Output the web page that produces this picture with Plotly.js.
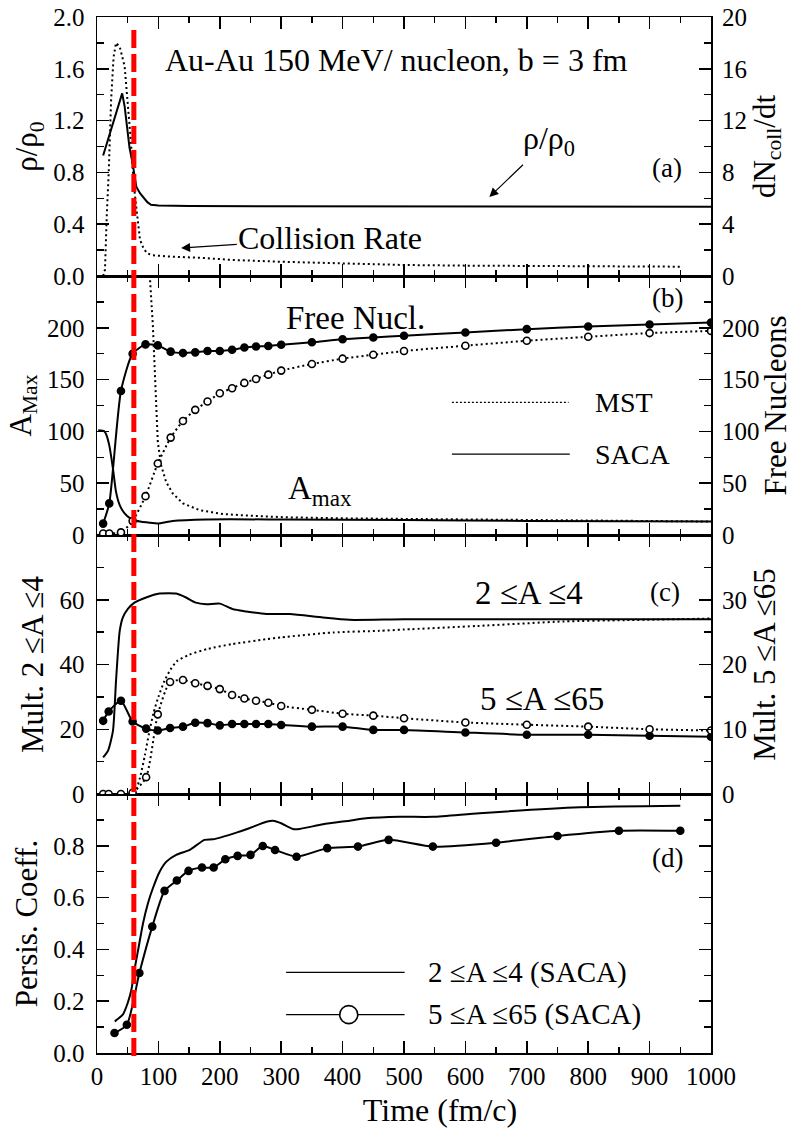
<!DOCTYPE html>
<html>
<head>
<meta charset="utf-8">
<script src="https://cdn.plot.ly/plotly-3.0.1.min.js"></script>
<style>html,body{margin:0;padding:0;background:#ffffff;}#chart{width:793px;height:1133px;}</style>
</head>
<body>
<div id="chart"></div>
<script>
// ---------- Panel (a): density (left) and collision rate (right) ----------
const rhoTime  = [10, 20, 30, 41, 45, 50, 53, 58, 64, 70, 75, 82, 88, 100, 150, 300, 500, 700, 1000];
const rhoValue = [0.93, 1.09, 1.24, 1.41, 1.31, 1.10, 0.99, 0.87, 0.69, 0.64, 0.61, 0.57, 0.55, 0.545, 0.54, 0.54, 0.54, 0.535, 0.535];
const collTime = [10, 13, 16, 19, 23, 27, 31, 37, 45, 50, 55, 60, 66, 70, 76, 82, 90, 120, 170, 220, 300, 400, 500, 600, 700, 800, 950];
const collRate = [0, 0.5, 4.8, 7.9, 13.6, 16.9, 18.0, 17.7, 16.2, 13.6, 10.5, 7.0, 4.3, 2.8, 2.1, 1.75, 1.6, 1.5, 1.4, 1.24, 1.1, 0.95, 0.85, 0.8, 0.77, 0.74, 0.72];

// ---------- Panel (b): free nucleons (right) and A_max (left) ----------
const freeTime      = [10, 20, 39, 58, 79, 99, 120, 140, 160, 180, 200, 220, 240, 259, 279, 300, 350, 400, 450, 500, 600, 700, 800, 900, 1000];
const freeSacaValue = [11, 30.5, 139, 175, 184, 183, 177, 175.6, 176.3, 177.6, 177.6, 178.8, 181, 182, 182.4, 183.7, 186, 189, 190.7, 192.3, 195.5, 198.7, 201.3, 203.2, 205];
const freeMstValue  = [1.5, 1.5, 2.5, 13.5, 37.5, 69, 94, 110, 120.8, 128.8, 136.8, 141.7, 146.8, 150.6, 154.8, 158.7, 165, 170.2, 174, 177.6, 182.7, 187.5, 191.3, 194.9, 197];
const amaxSacaTime  = [2, 12, 15, 20, 26, 31, 37, 45, 53, 64, 80, 99, 123, 178, 300, 500, 700, 1000];
const amaxSacaValue = [101, 100, 97, 86.5, 64, 41.6, 28.8, 20.8, 16.6, 13.8, 12.2, 11.2, 13.5, 15, 15, 14.5, 13.5, 13];
const amaxMstTime   = [84, 85.5, 88, 91, 93.6, 96.4, 99, 104.5, 112.7, 123.5, 140, 167, 205, 259, 313, 411, 500, 700, 900, 1000];
const amaxMstValue  = [270, 250, 231, 202, 160, 122, 90, 67, 51, 40, 30.5, 24, 20.2, 18.3, 17, 16, 15.5, 14, 13.2, 13];

// ---------- Panel (c): multiplicities ----------
const light24SacaTime  = [10, 18, 26, 31, 37, 42, 50, 61, 80, 102, 129, 145, 161, 178, 200, 221, 243, 276, 314, 368, 411, 500, 700, 1000];
const light24SacaValue = [11.3, 13.4, 19.5, 35, 50.4, 54.5, 57.1, 59.1, 60.7, 61.9, 61.9, 60.7, 59.1, 58.6, 58.8, 57.1, 56.4, 55.6, 55.6, 54.5, 53.8, 54, 54, 54];
const light24MstTime   = [62, 70, 78, 85, 92, 100, 110, 120, 130, 150, 180, 220, 275, 300, 385, 460, 500, 620, 760, 860, 1000];
const light24MstValue  = [0, 5, 12, 19, 25, 30, 35, 38.5, 41, 43, 44.8, 46.3, 47.8, 48.4, 49.9, 50.4, 50.8, 51.9, 53.3, 53.7, 54.2];
const frag565Time      = [10, 19, 39, 58, 80, 99, 119, 140, 160, 180, 200, 220, 240, 259, 279, 300, 350, 400, 450, 500, 600, 700, 800, 900, 1000];
const frag565SacaValue = [11.3, 12.75, 14.4, 11.2, 10.1, 9.8, 10.2, 10.4, 11, 10.95, 10.6, 10.8, 10.8, 10.8, 10.8, 10.65, 10.4, 10.4, 9.9, 9.9, 9.5, 9.15, 9.15, 9.0, 8.85];
const frag565MstValue  = [0, 0, 0, 0.2, 2.6, 12.3, 17.3, 17.6, 17.1, 16.7, 16.2, 15.3, 14.75, 14.4, 14.1, 13.6, 13, 12.4, 12.1, 11.7, 11.05, 10.7, 10.4, 10.0, 9.8];

// ---------- Panel (d): persistence coefficients (SACA) ----------
const persist24Time  = [29, 31, 42, 50, 56, 61, 67, 75, 83, 91, 102, 113, 129, 151, 175, 189, 227, 248, 276, 289, 300, 319, 330, 368, 411, 438, 493, 547, 623, 786, 950];
const persist24Value = [0.122, 0.126, 0.148, 0.193, 0.244, 0.321, 0.398, 0.501, 0.578, 0.636, 0.700, 0.739, 0.765, 0.784, 0.823, 0.825, 0.851, 0.868, 0.893, 0.896, 0.887, 0.865, 0.865, 0.883, 0.897, 0.906, 0.912, 0.912, 0.926, 0.949, 0.955];
const persist565Time  = [28.5, 48.6, 69, 90, 110, 130, 149, 171, 190, 209, 229, 250, 270, 290, 325, 375, 425, 475, 547, 650, 750, 850, 950];
const persist565Value = [0.077, 0.109, 0.309, 0.488, 0.626, 0.666, 0.703, 0.716, 0.716, 0.748, 0.761, 0.765, 0.799, 0.784, 0.758, 0.791, 0.797, 0.823, 0.797, 0.812, 0.838, 0.858, 0.858];

// ---------- Reference time and tick labels ----------
const redLineTime = 60;
const timeTicks   = [0, 100, 200, 300, 400, 500, 600, 700, 800, 900, 1000];
const rhoTicks    = [0, 0.4, 0.8, 1.2, 1.6, 2.0];
const collTicks   = [0, 4, 8, 12, 16, 20];
const amaxTicks   = [0, 50, 100, 150, 200];
const multTicks   = [0, 20, 40, 60];
const mult565Ticks = [0, 10, 20, 30];
const persistTicks = [0, 0.2, 0.4, 0.6, 0.8];

const FONT = 'Liberation Serif';
const BLACK = '#000000';

function line(x, y, xa, ya, dash, shape) {
  return {x: x, y: y, xaxis: xa, yaxis: ya, type: 'scatter', mode: 'lines',
    line: {color: BLACK, width: 2, dash: dash || 'solid', shape: shape || 'linear', smoothing: 0.6},
    hoverinfo: 'skip'};
}
function lineMarkers(x, y, xa, ya, dash, open) {
  return {x: x, y: y, xaxis: xa, yaxis: ya, type: 'scatter', mode: 'lines+markers',
    line: {color: BLACK, width: 2, dash: dash || 'solid', shape: 'spline', smoothing: 0.6},
    marker: {symbol: 'circle', size: 7, color: open ? '#ffffff' : BLACK, line: {color: BLACK, width: 1.6}},
    hoverinfo: 'skip'};
}
const DOT = '2px,3px';

const traces = [
  line(rhoTime, rhoValue, 'x4', 'y4'),
  line(collTime, collRate, 'x4', 'y5', DOT),
  lineMarkers(freeTime, freeSacaValue, 'x3', 'y6', 'solid', false),
  lineMarkers(freeTime, freeMstValue, 'x3', 'y6', DOT, true),
  line(amaxSacaTime, amaxSacaValue, 'x3', 'y3', 'solid', 'spline'),
  line(amaxMstTime, amaxMstValue, 'x3', 'y3', DOT),
  line(light24SacaTime, light24SacaValue, 'x2', 'y2', 'solid', 'spline'),
  line(light24MstTime, light24MstValue, 'x2', 'y2', DOT, 'spline'),
  lineMarkers(frag565Time, frag565SacaValue, 'x2', 'y7', 'solid', false),
  lineMarkers(frag565Time, frag565MstValue, 'x2', 'y7', DOT, true),
  line(persist24Time, persist24Value, 'x', 'y', 'solid', 'spline'),
  lineMarkers(persist565Time, persist565Value, 'x', 'y', 'solid', false)
];

const tickFont = {family: FONT, size: 25, color: BLACK};
const titleFont = {family: FONT, size: 31, color: BLACK};

function xAxis(anchor, showLabels) {
  const ax = {
    anchor: anchor, domain: [0, 1], range: [0, 1000],
    showline: true, linecolor: BLACK, linewidth: 1.5, mirror: 'ticks',
    ticks: 'inside', ticklen: 12, tickwidth: 1.5, tickcolor: BLACK,
    tickmode: 'array', tickvals: timeTicks,
    minor: {ticks: 'inside', dtick: 50, tick0: 0, ticklen: 6, tickwidth: 1.5, tickcolor: BLACK},
    showgrid: false, zeroline: false, showticklabels: showLabels,
    tickfont: tickFont, ticklabelstandoff: 0, fixedrange: true
  };
  if (anchor !== 'y') ax.matches = 'x';
  return ax;
}
function yLeft(domain, range, tickvals, fmt, minorStep, title, standoff) {
  return {
    domain: domain, range: range, anchor: null,
    showline: true, linecolor: BLACK, linewidth: 1.5, mirror: 'ticks',
    ticks: 'inside', ticklen: 12, tickwidth: 1.5, tickcolor: BLACK,
    tickmode: 'array', tickvals: tickvals, tickformat: fmt,
    minor: {ticks: 'inside', dtick: minorStep, tick0: 0, ticklen: 7, tickwidth: 1.5, tickcolor: BLACK},
    showgrid: false, zeroline: false, tickfont: tickFont, ticklabelstandoff: 6,
    title: {text: title, font: titleFont, standoff: standoff}, fixedrange: true
  };
}
function yRight(overlay, anchor, range, tickvals, title, standoff) {
  return {
    overlaying: overlay, anchor: anchor, side: 'right', range: range,
    showline: false, ticks: '', showgrid: false, zeroline: false,
    tickmode: 'array', tickvals: tickvals, tickfont: tickFont, ticklabelstandoff: 10,
    title: {text: title, font: titleFont, standoff: standoff}, fixedrange: true
  };
}

const yd = yLeft([0, 0.25], [0, 1], persistTicks, '.1f', 0.1, 'Persis. Coeff.', 6); yd.anchor = 'x';
const yc = yLeft([0.25, 0.5], [0, 80], multTicks, 'd', 10, 'Mult. 2 \u2264A \u22644', 6); yc.anchor = 'x2';
const yb = yLeft([0.5, 0.75], [0, 250], amaxTicks, 'd', 25, 'A<sub>Max</sub>', 6); yb.anchor = 'x3';
const ya = yLeft([0.75, 1], [0, 2], rhoTicks, '.1f', 0.2, '\u03c1/\u03c1<sub>0</sub>', 6); ya.anchor = 'x4';

const xMain = xAxis('y', true);
// a zero-width character keeps the leading no-break spaces, which move the centred title to the right as in the reference
xMain.title = {text: '\u200b\u00a0\u00a0\u00a0\u00a0\u00a0\u00a0\u00a0\u00a0\u00a0Time (fm/c)', font: {family: FONT, size: 32, color: BLACK}, standoff: 10};

const annFont = (s) => ({family: FONT, size: s, color: BLACK});
function note(text, x, y, xr, yr, size) {
  return {text: text, x: x, y: y, xref: xr, yref: yr, xanchor: 'left', yanchor: 'middle', showarrow: false, font: annFont(size)};
}

const layout = {
  width: 793, height: 1133,
  margin: {l: 97, r: 82, t: 17, b: 80, pad: 0},
  paper_bgcolor: '#ffffff', plot_bgcolor: '#ffffff',
  showlegend: false,
  font: {family: FONT, color: BLACK, size: 25},
  title: {text: 'Au-Au 150 MeV/ nucleon, b = 3 fm', font: {family: FONT, size: 32, color: BLACK},
          xref: 'container', yref: 'container', x: 165 / 793, y: 1 - 60 / 1133, xanchor: 'left', yanchor: 'middle'},
  xaxis: xMain,
  xaxis2: xAxis('y2', false),
  xaxis3: xAxis('y3', false),
  xaxis4: xAxis('y4', false),
  yaxis: yd, yaxis2: yc, yaxis3: yb, yaxis4: ya,
  yaxis5: yRight('y4', 'x4', [0, 20], collTicks, 'dN<sub>coll</sub>/dt', 6),
  yaxis6: yRight('y3', 'x3', [0, 250], amaxTicks, 'Free Nucleons', 6),
  yaxis7: yRight('y2', 'x2', [0, 40], mult565Ticks, 'Mult. 5 \u2264A \u226465', 6),
  shapes: [
    {type: 'line', xref: 'x', yref: 'paper', x0: redLineTime, x1: redLineTime, y0: 0.9875, y1: -0.007,
     line: {color: '#ff0000', width: 5, dash: '18px,6px'}, layer: 'above'},
    // legend keys, panel (b)
    {type: 'line', xref: 'x3', yref: 'y3', x0: 578, x1: 768, y0: 128, y1: 128, line: {color: BLACK, width: 1.2, dash: '2px,2px'}},
    {type: 'line', xref: 'x3', yref: 'y3', x0: 578, x1: 770, y0: 78, y1: 78, line: {color: BLACK, width: 1.2}},
    // legend keys, panel (d)
    {type: 'line', xref: 'x', yref: 'y', x0: 308, x1: 501, y0: 0.311, y1: 0.311, line: {color: BLACK, width: 1.2}},
    {type: 'line', xref: 'x', yref: 'y', x0: 308, x1: 501, y0: 0.148, y1: 0.148, line: {color: BLACK, width: 1.2}},
    {type: 'circle', xref: 'x', yref: 'y', xsizemode: 'pixel', ysizemode: 'pixel', xanchor: 410, yanchor: 0.148,
     x0: -9, x1: 9, y0: -9, y1: 9, fillcolor: '#ffffff', line: {color: BLACK, width: 1.6}}
  ],
  annotations: [
    {text: 'Collision Rate', x: 137, y: 0.216, ax: 380, ay: 0.293, xref: 'x4', yref: 'y4', axref: 'x4', ayref: 'y4',
     showarrow: true, arrowhead: 2, arrowsize: 1.5, arrowwidth: 1.2, arrowcolor: BLACK, standoff: 0, font: annFont(32)},
    {text: '\u03c1/\u03c1<sub>0</sub>', x: 639, y: 0.61, ax: 736, ay: 1.05, xref: 'x4', yref: 'y4', axref: 'x4', ayref: 'y4',
     showarrow: true, arrowhead: 2, arrowsize: 1.5, arrowwidth: 1.2, arrowcolor: BLACK, standoff: 0, startstandoff: 4, font: annFont(32)},
    note('(a)', 900, 0.834, 'x4', 'y4', 27),
    note('Free Nucl.', 305, 209.6, 'x3', 'y3', 33),
    note('(b)', 900, 228.8, 'x3', 'y3', 27),
    note('A<sub>max</sub>', 308, 43, 'x3', 'y3', 33),
    note('MST', 807, 128, 'x3', 'y3', 28),
    note('SACA', 807, 78, 'x3', 'y3', 28),
    note('2 \u2264A \u22644', 613, 62.2, 'x2', 'y2', 33),
    note('(c)', 897, 62.4, 'x2', 'y2', 27),
    note('5 \u2264A \u226465', 621, 29.4, 'x2', 'y2', 33),
    note('(d)', 900, 0.753, 'x', 'y', 27),
    note('2 \u2264A \u22644 (SACA)', 536, 0.311, 'x', 'y', 29),
    note('5 \u2264A \u226465 (SACA)', 536, 0.148, 'x', 'y', 29)
  ]
};

Plotly.newPlot('chart', traces, layout, {staticPlot: true, displayModeBar: false});
</script>
</body>
</html>
